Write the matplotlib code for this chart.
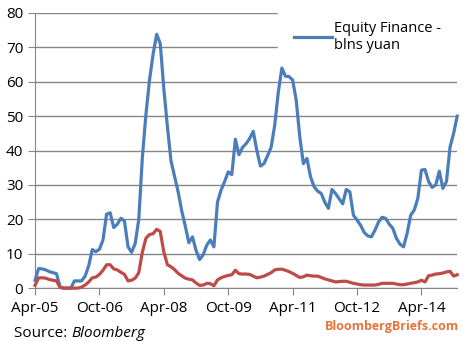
import numpy as np
import matplotlib.pyplot as plt

plt.rcParams['font.family'] = ['Open Sans', 'DejaVu Sans']

# monthly data, Apr-05 .. Feb-15
equity = [2.3, 5.7, 5.6, 5.3, 4.8, 4.5, 4.2, 0.4, 0, 0,
          0, 2.1, 2.1, 2.1, 3.5, 6.5, 11.2, 10.6, 11.3, 14,
          21.5, 21.9, 17.6, 18.6, 20.3, 19.5, 12, 10.4, 13, 20,
          38, 50.5, 60.5, 68, 73.8, 71.1, 58, 47, 37, 32.5,
          28, 22.5, 18, 13.2, 14.9, 11, 8.3, 9.7, 12.5, 14,
          12, 25, 28.5, 31, 33.8, 33, 43.3, 38.8, 40.9, 42,
          43.5, 45.6, 40, 35.5, 36.2, 38.5, 41, 47.4, 57, 64,
          61.6, 61.5, 60.5, 54.7, 44, 36.2, 37.7, 32.4, 29.5, 28.2,
          27.5, 25, 23.2, 28.7, 27.5, 26, 24.5, 28.7, 28, 21.2,
          19.8, 18.3, 16.2, 15.2, 14.9, 16.8, 19.2, 20.6, 20.3, 18.6,
          17.4, 14.5, 12.8, 12, 15.9, 21.2, 22.7, 26.1, 34.3, 34.5,
          31, 29.3, 30, 34, 29, 31, 41, 45, 50]
second = [0.8, 3.0, 3.0, 2.9, 2.5, 2.3, 2.1, 0.2, 0, 0,
          0, 0, 0, 0.3, 0.9, 1.8, 3.0, 3.2, 4.0, 5.2,
          6.8, 6.8, 5.6, 5.3, 4.6, 4.0, 2.1, 2.3, 2.9, 4.5,
          10.5, 14.5, 15.6, 15.8, 17.1, 16.5, 10.5, 6.8, 6.2, 5.4,
          4.3, 3.6, 2.9, 2.6, 2.4, 1.5, 0.8, 0.9, 1.4, 1.3,
          0.7, 2.4, 3.0, 3.4, 3.7, 3.9, 5.2, 4.2, 4.1, 4.1,
          4.0, 3.5, 3.0, 3.2, 3.5, 4.0, 4.5, 5.3, 5.5, 5.5,
          5.2, 4.8, 4.3, 3.7, 3.1, 3.3, 3.8, 3.6, 3.5, 3.5,
          3.1, 2.7, 2.4, 2.1, 1.8, 1.9, 2.0, 2.0, 1.7, 1.4,
          1.2, 1.0, 0.9, 0.9, 0.9, 0.9, 1.1, 1.4, 1.4, 1.4,
          1.4, 1.2, 1.0, 1.0, 1.2, 1.4, 1.6, 1.8, 2.3, 1.8,
          3.6, 3.8, 4.1, 4.2, 4.4, 4.7, 4.9, 3.5, 3.9]
tick_labels = ['Apr-05', 'Oct-06', 'Apr-08', 'Oct-09', 'Apr-11', 'Oct-12', 'Apr-14']

months = np.arange(len(equity))

fig = plt.figure(figsize=(4.67, 3.41), dpi=100)
ax = fig.add_axes([0.075, 0.155, 0.904, 0.807])

ax.plot(months, equity, color='#4A7EBB', lw=2.3, label='Equity Finance -\nblns yuan',
        clip_on=False, zorder=3)
ax.plot(months, second, color='#BE4B48', lw=2.3, clip_on=False, zorder=3)

ax.set_xlim(0, len(equity) - 1)
ax.set_ylim(0, 80)
ax.set_yticks(range(0, 81, 10))
ax.set_xticks(np.arange(0, len(equity), 18))
ax.set_xticklabels(tick_labels)
ax.yaxis.grid(True, color='#868686', lw=1.0)
ax.set_axisbelow(True)
for s in ['top', 'right']:
    ax.spines[s].set_visible(False)
for s in ['left', 'bottom']:
    ax.spines[s].set_color('#868686')
ax.tick_params(axis='both', colors='#868686', labelcolor='black', labelsize=11, length=5)
ax.tick_params(axis='x', pad=4)

leg = ax.legend(loc='upper right', bbox_to_anchor=(1.0, 1.03), frameon=True,
                fontsize=10.5, handlelength=2.6, handletextpad=0.15, borderpad=1.1,
                borderaxespad=0)
leg.get_frame().set_edgecolor('white')
leg.get_frame().set_facecolor('white')
leg.get_frame().set_alpha(1)
leg.get_frame().set_boxstyle('square', pad=0)
leg.set_zorder(2)

fig.text(0.03, 0.0, 'Source: ', fontsize=11, ha='left', va='bottom')
fig.text(0.153, 0.0, 'Bloomberg', fontsize=11, style='italic', ha='left', va='bottom')
fig.text(0.982, 0.022, 'BloombergBriefs.com', fontsize=9, fontweight='bold',
         color='#E8743B', ha='right', va='bottom')

fig.savefig('out.png', dpi=100)
